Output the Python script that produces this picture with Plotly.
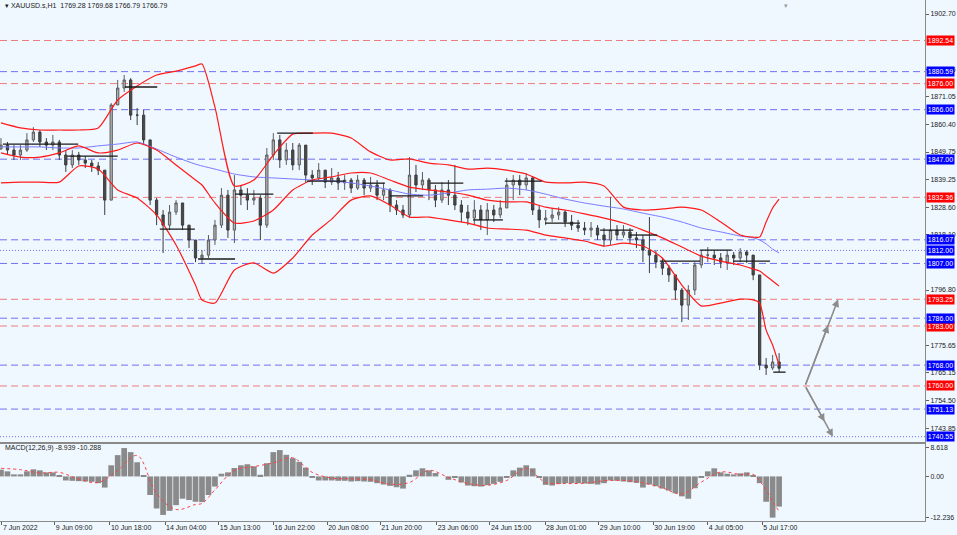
import plotly.graph_objects as go

bar_open = [
    1851.0, 1852.4, 1850.5, 1848.6, 1850.5, 1854.4, 1857.4, 1853.6, 1852.4, 1853.6,
    1848.6, 1844.8, 1848.6, 1846.7, 1845.5, 1844.4, 1842.8, 1831.3, 1867.8, 1874.3,
    1877.4, 1863.9, 1863.9, 1854.4, 1831.3, 1825.6, 1821.7, 1826.7, 1830.2, 1821.7,
    1816.0, 1809.1, 1810.2, 1816.0, 1821.7, 1833.2, 1819.8, 1835.2, 1833.2, 1831.3,
    1832.1, 1821.7, 1848.6, 1854.4, 1846.7, 1850.5, 1844.8, 1852.4, 1840.9, 1839.8,
    1842.8, 1838.2, 1839.8, 1837.9, 1839.0, 1835.9, 1839.0, 1835.9, 1837.1, 1833.2,
    1835.2, 1829.4, 1827.5, 1825.6, 1840.9, 1837.1, 1839.0, 1835.2, 1831.3, 1835.2,
    1833.2, 1829.4, 1826.7, 1824.4, 1827.5, 1823.7, 1827.5, 1825.6, 1828.3, 1837.1,
    1839.0, 1837.1, 1839.8, 1827.5, 1823.7, 1824.4, 1825.6, 1826.7, 1822.9, 1821.7,
    1820.6, 1819.8, 1820.6, 1817.9, 1816.0, 1819.8, 1817.9, 1819.1, 1816.8, 1816.0,
    1812.1, 1810.2, 1807.5, 1805.2, 1802.6, 1796.8, 1791.0, 1796.8, 1806.4, 1810.2,
    1810.2, 1809.1, 1807.5, 1810.2, 1809.1, 1811.4, 1810.2, 1802.6, 1768.0, 1766.9,
    1769.2,
]
bar_high = [
    1855.1, 1853.6, 1852.4, 1852.4, 1857.0, 1859.3, 1858.2, 1855.1, 1856.3, 1854.4,
    1850.5, 1850.5, 1849.8, 1848.2, 1846.7, 1845.9, 1842.8, 1868.5, 1877.4, 1879.3,
    1878.1, 1866.6, 1865.9, 1854.4, 1832.1, 1827.5, 1829.4, 1831.3, 1830.2, 1821.7,
    1816.0, 1812.1, 1817.9, 1823.7, 1835.9, 1835.2, 1840.9, 1837.1, 1835.9, 1835.2,
    1833.2, 1851.3, 1857.0, 1856.3, 1853.2, 1853.2, 1853.2, 1852.4, 1842.8, 1845.5,
    1842.8, 1843.6, 1842.1, 1840.9, 1839.8, 1840.9, 1839.8, 1840.2, 1839.0, 1837.9,
    1835.9, 1831.3, 1829.4, 1847.8, 1844.8, 1842.1, 1839.8, 1837.1, 1838.2, 1839.0,
    1844.8, 1831.3, 1829.4, 1831.3, 1829.4, 1830.2, 1829.4, 1831.3, 1839.8, 1840.9,
    1840.9, 1841.7, 1840.5, 1829.4, 1827.5, 1828.3, 1828.6, 1827.5, 1825.6, 1823.7,
    1822.9, 1822.9, 1821.7, 1820.6, 1832.5, 1821.7, 1821.7, 1820.6, 1819.1, 1817.9,
    1824.8, 1812.1, 1809.1, 1806.4, 1802.6, 1797.6, 1798.7, 1807.5, 1812.1, 1813.3,
    1812.1, 1811.0, 1812.1, 1811.4, 1812.9, 1812.1, 1810.2, 1802.6, 1770.7, 1771.9,
    1772.6,
]
bar_low = [
    1850.5, 1848.6, 1846.7, 1846.7, 1849.8, 1853.6, 1851.7, 1850.5, 1850.5, 1846.7,
    1842.1, 1843.6, 1844.8, 1843.6, 1842.1, 1840.9, 1825.6, 1831.3, 1867.8, 1872.8,
    1862.0, 1860.1, 1852.4, 1829.4, 1821.7, 1811.0, 1819.8, 1825.6, 1819.8, 1812.9,
    1807.5, 1806.8, 1809.1, 1814.1, 1820.6, 1816.8, 1814.8, 1829.4, 1827.5, 1829.4,
    1816.0, 1820.6, 1846.7, 1843.6, 1844.8, 1842.8, 1842.8, 1837.9, 1837.1, 1839.0,
    1835.9, 1837.1, 1835.2, 1835.2, 1834.0, 1835.2, 1833.2, 1834.4, 1831.3, 1831.3,
    1826.7, 1825.6, 1824.4, 1824.4, 1834.4, 1835.2, 1831.3, 1828.6, 1830.2, 1829.4,
    1827.5, 1822.9, 1821.7, 1821.7, 1819.8, 1817.9, 1822.9, 1824.4, 1828.3, 1831.3,
    1833.2, 1835.2, 1825.6, 1820.6, 1821.7, 1822.9, 1823.7, 1821.0, 1819.8, 1819.1,
    1817.9, 1817.1, 1816.0, 1813.3, 1814.1, 1816.0, 1816.8, 1814.8, 1812.9, 1807.5,
    1803.3, 1805.2, 1802.6, 1799.9, 1793.0, 1784.5, 1785.3, 1794.9, 1805.2, 1807.5,
    1806.4, 1805.2, 1804.5, 1806.4, 1807.5, 1807.2, 1800.6, 1766.1, 1764.2, 1766.1,
    1765.3,
]
bar_close = [
    1852.4, 1850.5, 1848.6, 1850.5, 1854.4, 1857.4, 1853.6, 1852.4, 1853.6, 1848.6,
    1844.8, 1848.6, 1846.7, 1845.5, 1844.4, 1842.8, 1831.3, 1867.8, 1874.3, 1877.4,
    1863.9, 1863.9, 1854.4, 1831.3, 1825.6, 1821.7, 1826.7, 1830.2, 1821.7, 1816.0,
    1809.1, 1810.2, 1816.0, 1821.7, 1833.2, 1819.8, 1835.2, 1833.2, 1831.3, 1832.1,
    1821.7, 1848.6, 1854.4, 1846.7, 1850.5, 1844.8, 1852.4, 1840.9, 1839.8, 1842.8,
    1838.2, 1839.8, 1837.9, 1839.0, 1835.9, 1839.0, 1835.9, 1837.1, 1833.2, 1835.2,
    1829.4, 1827.5, 1825.6, 1840.9, 1837.1, 1839.0, 1835.2, 1831.3, 1835.2, 1833.2,
    1829.4, 1826.7, 1824.4, 1827.5, 1823.7, 1827.5, 1825.6, 1828.3, 1837.1, 1839.0,
    1837.1, 1839.8, 1827.5, 1823.7, 1824.4, 1825.6, 1826.7, 1822.9, 1821.7, 1820.6,
    1819.8, 1820.6, 1817.9, 1816.0, 1819.8, 1817.9, 1819.1, 1816.8, 1816.0, 1812.1,
    1810.2, 1807.5, 1805.2, 1802.6, 1796.8, 1791.0, 1796.8, 1806.4, 1810.2, 1810.2,
    1809.1, 1807.5, 1810.2, 1809.1, 1811.4, 1810.2, 1802.6, 1768.0, 1766.9, 1769.2,
    1766.79,
]

# indicator lines, sampled at these bar numbers
line_idx = [0, 3, 6, 9, 12, 15, 18, 21, 24, 27, 30, 31, 33, 36, 39, 42, 45, 48, 51, 54,
            57, 60, 63, 66, 69, 72, 75, 78, 81, 84, 87, 90, 93, 96, 99, 102, 105, 108,
            111, 114, 116, 117, 118, 119, 120]
bb_upper = [1860.9, 1859.0, 1858.2, 1858.2, 1858.2, 1859.0, 1869.7, 1875.1, 1879.3, 1880.8,
            1882.8, 1883.5, 1867.0, 1836.7, 1839.0, 1848.6, 1856.6, 1857.0, 1857.0, 1855.1,
            1849.8, 1846.7, 1847.1, 1845.5, 1844.8, 1843.2, 1843.6, 1842.8, 1841.3, 1838.2,
            1837.9, 1838.2, 1836.7, 1828.6, 1827.5, 1827.9, 1828.6, 1827.5, 1822.9, 1817.9,
            1817.1, 1817.1, 1822.9, 1828.3, 1831.7]
bb_mid = [1849.4, 1847.8, 1847.8, 1849.4, 1852.1, 1849.4, 1850.5, 1853.2, 1850.5, 1844.8,
          1839.0, 1837.1, 1830.2, 1822.5, 1823.3, 1827.5, 1835.2, 1839.0, 1840.2, 1841.7,
          1841.7, 1839.0, 1836.3, 1835.2, 1834.4, 1833.2, 1831.3, 1830.6, 1830.6, 1828.6,
          1827.5, 1826.0, 1824.4, 1822.5, 1819.8, 1816.8, 1813.3, 1809.8, 1807.9, 1806.4,
          1804.9, 1804.1, 1802.2, 1800.3, 1798.3]
bb_lower = [1837.9, 1838.2, 1838.2, 1838.2, 1844.4, 1843.2, 1835.2, 1832.1, 1825.6, 1814.1,
            1798.7, 1793.0, 1791.8, 1804.5, 1807.2, 1803.3, 1809.1, 1817.9, 1824.0, 1831.3,
            1832.9, 1829.4, 1824.8, 1824.8, 1823.7, 1822.5, 1820.6, 1820.2, 1819.8, 1817.9,
            1816.8, 1815.6, 1813.7, 1814.8, 1813.7, 1809.1, 1798.7, 1790.7, 1791.8, 1793.3,
            1793.0, 1791.8, 1781.4, 1775.7, 1768.0]
ma_slow = [1851.7, 1851.7, 1851.7, 1851.3, 1851.3, 1852.1, 1852.8, 1853.6, 1850.9, 1847.8,
           1845.1, 1844.4, 1843.2, 1841.3, 1840.2, 1839.8, 1839.4, 1839.0, 1838.6, 1837.9,
           1836.7, 1835.2, 1833.6, 1833.2, 1834.0, 1835.2, 1835.5, 1835.9, 1835.2, 1833.6,
           1831.7, 1830.2, 1829.0, 1827.9, 1826.3, 1824.8, 1822.9, 1820.6, 1819.1, 1817.5,
           1816.8, 1816.0, 1814.5, 1812.5, 1811.0]

macd_hist = [
    2.0, 1.5, 0.6, 0.6, 1.5, 2.1, 1.8, 1.2, 1.2, 0.3,
    -1.2, -1.3, -1.4, -1.5, -1.6, -2.0, -3.3, 3.3, 6.3, 8.4,
    7.2, 4.2, 0.2, -5.5, -9.5, -11.4, -10.2, -8.5, -6.6, -7.0,
    -7.5, -7.6, -5.5, -3.0, 0.8, 1.2, 2.5, 3.3, 3.6, 3.0,
    0.5, 3.9, 7.2, 7.8, 6.4, 5.4, 4.3, 2.6, -0.2, -1.2,
    -1.2, -1.2, -1.3, -1.3, -1.5, -1.4, -1.5, -1.6, -2.0, -2.4,
    -2.8, -3.2, -3.6, 0.5, 1.8, 2.4, 1.8, 1.0, 0.0, -1.0,
    -0.3, -1.8, -2.7, -2.9, -3.0, -2.6, -2.2, -1.6, -0.2, 1.8,
    2.6, 3.3, 2.4, -0.3, -2.5, -2.7, -2.2, -2.0, -2.0, -2.0,
    -2.1, -2.2, -2.4, -2.0, -1.2, -1.3, -1.5, -1.7, -1.9, -3.3,
    -2.4, -2.9, -3.6, -4.2, -5.0, -5.9, -6.6, -3.5, -0.3, 1.5,
    2.4, 1.2, 0.8, 0.6, 0.9, 1.2, 0.3, -2.0, -7.5, -12.2,
    -8.939,
]
macd_signal = [2.4, 2.0, 1.0, 1.2, -0.8, -1.8, 1.8, 6.2, -5.1, -9.8,
               -8.3, -8.0, -4.0, 1.8, 2.9, 4.0, 5.5, 1.2, -0.5, -0.7,
               -1.0, -2.3, -1.8, 1.8, -0.3, -2.1, -2.6, -1.2, 2.4, -1.8,
               -2.1, -2.0, -1.3, -1.2, -1.9, -3.4, -5.2, -1.7, 1.3, 0.6,
               0.6, -1.3, -4.0, -7.5, -10.288]

# horizontal levels drawn on the chart
red_levels = [1892.54, 1876.00, 1832.36, 1793.25, 1783.00, 1760.00]
blue_levels = [1880.59, 1866.00, 1847.00, 1816.07, 1807.00, 1786.00, 1768.00, 1751.13]
blue_dotted_levels = [1812.00, 1740.55]

# short black open/close segments
seg_start = [0.3, 10.2, 19.1, 24.5, 30.4, 36.1, 42.6, 47.2, 55.8, 60.0, 66.2, 72.8, 77.7,
             83.9, 92.4, 97.0, 101.6, 107.8, 112.9, 119.1]
seg_end = [11.9, 18.0, 24.1, 29.9, 36.1, 42.0, 48.1, 53.1, 59.2, 65.1, 71.3, 77.4, 83.4,
           89.3, 97.5, 101.2, 107.8, 112.7, 118.6, 121.0]
seg_price = [1852.8, 1848.2, 1874.7, 1820.2, 1808.7, 1833.6, 1857.0, 1838.6, 1837.8, 1832.9,
             1837.8, 1823.7, 1838.6, 1822.5, 1819.8, 1817.9, 1807.9, 1812.1, 1807.9, 1765.3]

# projected path arrows
arrow_from = (124.0, 1760.00)
arrow_to = [(129.1, 1793.25), (128.3, 1740.55)]

price_ticks = ["1902.70", "1881.55", "1871.05", "1860.40", "1849.75", "1839.25",
               "1828.60", "1818.10", "1796.80", "1775.65", "1765.15",
               "1754.50", "1743.85"]
date_idx = [0.15, 8.3, 16.8, 25.3, 33.6, 42.0, 50.3, 58.5, 67.2, 75.4, 83.9, 92.2, 100.6,
            109.0, 117.4]
date_text = ["7 Jun 2022", "9 Jun 09:00", "10 Jun 18:00", "14 Jun 04:00", "15 Jun 13:00",
             "16 Jun 22:00", "20 Jun 08:00", "21 Jun 20:00", "23 Jun 06:00", "24 Jun 15:00",
             "28 Jun 01:00", "29 Jun 10:00", "30 Jun 19:00", "4 Jul 05:00", "5 Jul 17:00"]

BG = "#f0f8ff"
FONT = "Liberation Sans, Arial, sans-serif"
bars = list(range(len(bar_close)))

fig = go.Figure()

fig.add_trace(go.Scatter(x=line_idx, y=ma_slow, mode="lines",
                         line=dict(color="#7878ff", width=1, shape="spline", smoothing=0.6),
                         hoverinfo="skip"))
fig.add_trace(go.Candlestick(
    x=bars, open=bar_open, high=bar_high, low=bar_low, close=bar_close,
    increasing=dict(line=dict(color="#5c5c5c", width=1), fillcolor="#b4b4b4"),
    decreasing=dict(line=dict(color="#3c3c3c", width=1), fillcolor="#4a4a4a"),
    whiskerwidth=0))
for band in (bb_upper, bb_mid, bb_lower):
    fig.add_trace(go.Scatter(x=line_idx, y=band, mode="lines",
                             line=dict(color="#ff1a1a", width=1.2, shape="spline", smoothing=0.6),
                             hoverinfo="skip"))

sx, sy = [], []
for a, b, p in zip(seg_start, seg_end, seg_price):
    sx += [a, b, None]
    sy += [p, p, None]
fig.add_trace(go.Scatter(x=sx, y=sy, mode="lines", line=dict(color="#1a1a1a", width=1.3),
                         hoverinfo="skip"))

fig.add_trace(go.Bar(x=bars, y=macd_hist, marker=dict(color="#8a8a8a", line=dict(width=0)),
                     xaxis="x2", yaxis="y2"))
fig.add_trace(go.Scatter(x=line_idx, y=macd_signal, mode="lines",
                         line=dict(color="#ff4040", width=1, dash="dot", shape="spline"),
                         xaxis="x2", yaxis="y2"))

# levels + price badges on the axis
levels = ([(p, "#f07a7a", "#ff0000", "7px,4px") for p in red_levels]
          + [(p, "#7070f0", "#0000ff", "7px,4px") for p in blue_levels]
          + [(p, "#7070f0", "#0000ff", "1px,2px") for p in blue_dotted_levels])
for p, lc, bc, dash in levels:
    fig.add_shape(type="line", xref="x domain", x0=0, x1=1, yref="y", y0=p, y1=p,
                  line=dict(color=lc, width=1, dash=dash), layer="below")
    fig.add_annotation(xref="paper", x=926 / 957, xanchor="left", yref="y", y=p,
                       text=f"{p:.2f}", showarrow=False, bgcolor=bc, borderpad=0,
                       width=27, height=9, font=dict(color="white", size=7, family=FONT))

for tx, ty in arrow_to:
    for frac in (1.0, 0.7):
        fig.add_annotation(x=arrow_from[0] + (tx - arrow_from[0]) * frac,
                           y=arrow_from[1] + (ty - arrow_from[1]) * frac,
                           ax=arrow_from[0], ay=arrow_from[1], xref="x", yref="y",
                           axref="x", ayref="y", text="", showarrow=True, arrowhead=2,
                           arrowsize=1, arrowwidth=1.5, arrowcolor="#8c8c8c")

fig.add_annotation(xref="paper", yref="paper", x=3 / 957, y=1 - 5 / 535, xanchor="left",
                   yanchor="middle", showarrow=False,
                   text="▾ XAUUSD.s,H1  1769.28 1769.68 1766.79 1766.79",
                   font=dict(size=7, color="#1a1a1a", family=FONT))
fig.add_annotation(xref="paper", yref="paper", x=3 / 957, y=1 - 448 / 535, xanchor="left",
                   yanchor="middle", showarrow=False,
                   text=f"MACD(12,26,9) {macd_hist[-1]:.3f} {macd_signal[-1]:.3f}",
                   font=dict(size=7, color="#1a1a1a", family=FONT))
fig.add_annotation(xref="paper", yref="paper", x=786 / 957, y=1, xanchor="center",
                   yanchor="top", showarrow=False, text="▾",
                   font=dict(size=7, color="#9a9a9a", family=FONT))

axis_common = dict(showgrid=False, zeroline=False, showline=True, mirror=True,
                   linecolor="#8a8a8a", linewidth=1, automargin=False)
fig.update_layout(
    width=957, height=535, margin=dict(l=0, r=0, t=0, b=0),
    paper_bgcolor=BG, plot_bgcolor=BG, showlegend=False, bargap=0.12, boxgap=0.5,
    font=dict(family=FONT, size=7, color="#1a1a1a"),
    xaxis=dict(domain=[0, 925 / 957], range=[-0.15, 142.5], showticklabels=False,
               rangeslider=dict(visible=False), anchor="y", **axis_common),
    yaxis=dict(domain=[93 / 535, 1], range=[1738.5, 1908.07], side="right", anchor="x",
               tickvals=[float(t) for t in price_ticks], ticktext=price_ticks,
               ticks="outside", ticklen=3, tickcolor="#606060", **axis_common),
    xaxis2=dict(domain=[0, 925 / 957], matches="x", anchor="y2", tickvals=date_idx,
                ticktext=date_text, ticklabelposition="outside right", ticks="outside",
                ticklen=3, tickcolor="#606060", **axis_common),
    yaxis2=dict(domain=[14 / 535, 91 / 535], range=[-13.2, 9.6], side="right", anchor="x2",
                tickvals=[8.618, 0, -12.236], ticktext=["8.618", "0.00", "-12.236"],
                ticks="outside", ticklen=3, tickcolor="#606060", **axis_common),
)

fig.write_html("out.html", config={"displayModeBar": False},
               post_script="document.body.style.margin='0';")
